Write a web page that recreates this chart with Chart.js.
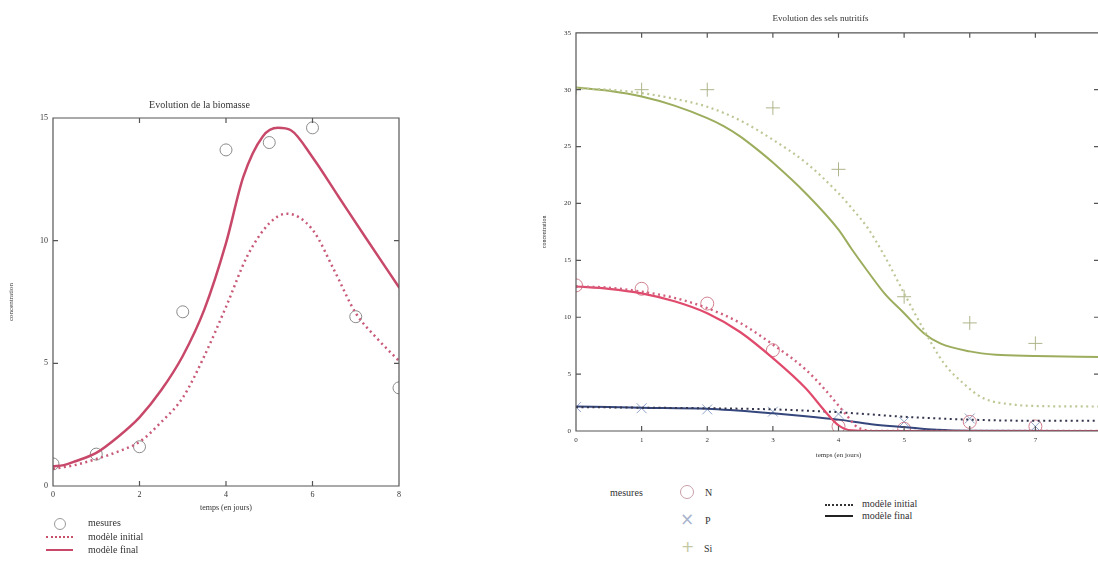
<!DOCTYPE html>
<html>
<head>
<meta charset="utf-8">
<script src="https://cdn.jsdelivr.net/npm/chart.js@4.4.1/dist/chart.umd.min.js"></script>
<style>
  html, body { margin:0; padding:0; width:1098px; height:562px; overflow:hidden; background:#fff; }
  body { position:relative; font-family:"Liberation Serif","DejaVu Serif",serif; color:#333; }
  #c1wrap { position:absolute; left:0; top:90px; width:420px; height:430px; }
  #c2wrap { position:absolute; left:540px; top:0; width:580px; height:470px; }
  .t { position:absolute; font-size:10px; line-height:12px; white-space:nowrap; color:#333; }
  .ln { position:absolute; height:0; }
</style>
</head>
<body>
<div id="c1wrap"><canvas id="c1" width="420" height="430"></canvas></div>
<div id="c2wrap"><canvas id="c2" width="580" height="470"></canvas></div>

<!-- left legend -->
<div style="position:absolute;left:54px;top:518px;width:10px;height:10px;border:1px solid #999;border-radius:50%;"></div>
<div class="t" style="left:88px;top:517px;">mesures</div>
<div class="ln" style="left:46px;top:536px;width:27px;border-top:2px dotted #c8506a;"></div>
<div class="t" style="left:88px;top:531px;">modèle initial</div>
<div class="ln" style="left:46px;top:549px;width:27px;border-top:2px solid #c8486a;"></div>
<div class="t" style="left:88px;top:544px;">modèle final</div>

<!-- right legend -->
<div class="t" style="left:610px;top:487px;">mesures</div>
<div style="position:absolute;left:680px;top:485px;width:12px;height:12px;border:1px solid #c8a0a8;border-radius:50%;"></div>
<div class="t" style="left:705px;top:487px;">N</div>
<div class="t" style="left:680px;top:510px;font-size:17px;line-height:18px;color:#a8b4cc;font-family:'DejaVu Sans',sans-serif;">×</div>
<div class="t" style="left:705px;top:515px;">P</div>
<div class="t" style="left:681px;top:538px;font-size:16px;line-height:18px;color:#c4c8a4;font-family:'DejaVu Sans',sans-serif;">+</div>
<div class="t" style="left:704px;top:543px;">Si</div>
<div class="ln" style="left:825px;top:504px;width:28px;border-top:2px dotted #333;"></div>
<div class="t" style="left:862px;top:498px;">modèle initial</div>
<div class="ln" style="left:825px;top:515px;width:28px;border-top:2px solid #222;"></div>
<div class="t" style="left:862px;top:510px;">modèle final</div>

<script>
// ---------- Data: biomasse ----------
const bioMesT   = [0, 1, 2, 3, 4, 5, 6, 7, 8];
const bioMesV   = [0.9, 1.3, 1.6, 7.1, 13.7, 14.0, 14.6, 6.9, 4.0];
const bioIniT   = [0, 0.5, 1, 1.5, 2, 2.5, 3, 3.5, 4, 4.5, 5, 5.4, 6, 6.5, 7, 7.5, 8];
const bioIniV   = [0.7, 0.85, 1.1, 1.4, 1.8, 2.6, 3.6, 5.3, 7.3, 9.4, 10.7, 11.1, 10.45, 8.8, 7.05, 6.0, 5.1];
const bioFinT   = [0, 0.25, 0.5, 1, 1.5, 2, 2.5, 3, 3.5, 4, 4.4, 4.85, 5.2, 5.5, 6, 6.6, 7.2, 8];
const bioFinV   = [0.8, 0.85, 1.0, 1.35, 2.0, 2.8, 3.9, 5.3, 7.2, 9.9, 12.6, 14.25, 14.6, 14.5, 13.4, 11.8, 10.2, 8.1];
const bioXTicks = [0, 2, 4, 6, 8];
const bioYTicks = [0, 5, 10, 15];

// ---------- Data: sels nutritifs ----------
const selMesT = [0, 1, 2, 3, 4, 5, 6, 7];
const nMesV   = [12.8, 12.5, 11.2, 7.1, 0.4, 0.2, 0.8, 0.4];
const pMesV   = [2.1, 2.0, 1.9, 1.7, 1.5, 0.8, 1.1, 0.4];
const siMesV  = [30.2, 30.0, 30.0, 28.4, 23.0, 11.8, 9.5, 7.7];

const nFinT  = [0, 0.5, 1, 1.5, 2, 2.5, 3, 3.5, 3.8, 4, 4.2, 4.5, 5, 6, 7, 8];
const nFinV  = [12.7, 12.5, 12.1, 11.4, 10.35, 8.7, 6.4, 3.75, 1.7, 0.5, 0.05, 0, 0, 0, 0, 0];
const nIniT  = [0, 0.5, 1, 1.5, 2, 2.5, 3, 3.5, 3.8, 4.1, 4.3, 4.6, 5, 8];
const nIniV  = [12.7, 12.6, 12.25, 11.7, 10.8, 9.5, 7.6, 5.4, 3.6, 1.55, 0.3, 0, 0, 0];

const siFinT = [0, 0.5, 1, 1.5, 2, 2.25, 2.5, 2.75, 3, 3.5, 4, 4.2, 4.45, 4.7, 5, 5.3, 5.55, 6, 6.4, 7, 8];
const siFinV = [30.2, 29.9, 29.4, 28.6, 27.5, 26.8, 25.9, 24.8, 23.6, 20.9, 17.7, 16.0, 14.0, 12.1, 10.35, 8.6, 7.7, 7.0, 6.7, 6.6, 6.5];
const siIniT = [0, 0.5, 1, 1.5, 2, 2.5, 3, 3.5, 4, 4.2, 4.45, 4.7, 5, 5.3, 5.6, 5.9, 6.2, 6.7, 7, 8];
const siIniV = [30.1, 30.0, 29.7, 29.2, 28.5, 27.3, 25.6, 23.6, 20.9, 19.6, 17.8, 15.4, 12.1, 8.9, 6.0, 4.2, 2.9, 2.3, 2.2, 2.15];

const pFinT  = [0, 1, 2, 3, 3.5, 4, 4.5, 5, 5.5, 6, 8];
const pFinV  = [2.15, 2.05, 1.95, 1.55, 1.3, 1.0, 0.6, 0.35, 0.1, 0.02, 0];
const pIniT  = [0, 1, 2, 3, 4, 5, 6, 7, 8];
const pIniV  = [2.1, 2.05, 2.0, 1.9, 1.65, 1.25, 1.0, 0.9, 0.9];

const selXTicks = [0, 1, 2, 3, 4, 5, 6, 7, 8];
const selYTicks = [0, 5, 10, 15, 20, 25, 30, 35];

// ---------- helpers ----------
const pts = (xs, ys) => xs.map((x, i) => ({x, y: ys[i]}));
const FONT = '"Liberation Serif","DejaVu Serif",serif';

function lineDs(label, xs, ys, color, dashed, width) {
  return {
    label, data: pts(xs, ys), showLine: true, pointRadius: 0,
    borderColor: color, borderWidth: width, borderDash: dashed ? [2, 3.5] : [],
    borderCapStyle: dashed ? 'butt' : 'round',
    cubicInterpolationMode: 'monotone', fill: false
  };
}
function markDs(label, xs, ys, style, color, r) {
  return {
    label, data: pts(xs, ys), showLine: false, pointStyle: style,
    pointRadius: r, pointBorderColor: color, pointBackgroundColor: 'rgba(0,0,0,0)',
    pointBorderWidth: 1, borderColor: color
  };
}

const framePlugin = {
  id: 'frame',
  afterDatasetsDraw(chart, args, opts) {
    const {ctx, chartArea: a, scales} = chart;
    ctx.save();
    ctx.strokeStyle = opts.color || '#555';
    ctx.lineWidth = opts.width || 1.2;
    ctx.beginPath();
    ctx.rect(a.left, a.top, a.right - a.left, a.bottom - a.top);
    const L = opts.len || 5;
    scales.x.ticks.forEach(t => {
      const px = scales.x.getPixelForValue(t.value);
      if (px <= a.left + 1 || px >= a.right - 1) return;
      ctx.moveTo(px, a.bottom); ctx.lineTo(px, a.bottom - L);
      ctx.moveTo(px, a.top); ctx.lineTo(px, a.top + L);
    });
    scales.y.ticks.forEach(t => {
      const py = scales.y.getPixelForValue(t.value);
      if (py <= a.top + 1 || py >= a.bottom - 1) return;
      ctx.moveTo(a.left, py); ctx.lineTo(a.left + L, py);
      ctx.moveTo(a.right, py); ctx.lineTo(a.right - (opts.rlen || L), py);
    });
    ctx.stroke();
    ctx.restore();
  }
};

function axes(xTicks, yTicks, o) {
  return {
    x: {
      type: 'linear', min: xTicks[0], max: xTicks[xTicks.length - 1],
      afterBuildTicks: s => { s.ticks = xTicks.map(v => ({value: v})); },
      ticks: {font: {family: FONT, size: o.tick}, color: '#333', padding: o.xpad, maxRotation: 0, autoSkip: false},
      grid: {display: false, drawTicks: false}, border: {display: false},
      title: {display: true, text: 'temps (en jours)', color: '#333', font: {family: FONT, size: o.title}, padding: {top: o.xtp, bottom: o.xtp}},
      afterFit: s => { s.height = o.xh; }
    },
    y: {
      type: 'linear', min: yTicks[0], max: yTicks[yTicks.length - 1],
      afterBuildTicks: s => { s.ticks = yTicks.map(v => ({value: v})); },
      ticks: {font: {family: FONT, size: o.tick}, color: '#333', padding: o.ypad, autoSkip: false},
      grid: {display: false, drawTicks: false}, border: {display: false},
      title: {display: true, text: 'concentration', color: '#333', font: {family: FONT, size: o.ytitle}, padding: {top: o.ytp, bottom: o.ytp}},
      afterFit: s => { s.width = o.yw; }
    }
  };
}

// ---------- chart 1 : biomasse ----------
new Chart(document.getElementById('c1'), {
  type: 'scatter',
  data: {
    datasets: [
      lineDs('modèle final', bioFinT, bioFinV, '#c8486a', false, 2.5),
      lineDs('modèle initial', bioIniT, bioIniV, '#c85a78', true, 2.5),
      markDs('mesures', bioMesT, bioMesV, 'circle', '#8a8a8a', 6)
    ]
  },
  options: {
    responsive: false, animation: false,
    layout: {padding: {top: 1, right: 21, left: 0, bottom: 0}},
    plugins: {
      legend: {display: false}, tooltip: {enabled: false},
      title: {display: true, text: 'Evolution de la biomasse', color: '#333', font: {family: FONT, size: 10, weight: 'normal'}, padding: {top: 8, bottom: 7}},
      frame: {color: '#555', width: 1.2, len: 5}
    },
    scales: axes(bioXTicks, bioYTicks, {tick: 8, title: 8, ytitle: 7, xpad: 4, xtp: 7, xh: 34, ypad: 5, ytp: 7, yw: 53})
  },
  plugins: [framePlugin]
});

// ---------- chart 2 : sels nutritifs ----------
new Chart(document.getElementById('c2'), {
  type: 'scatter',
  data: {
    datasets: [
      lineDs('Si modèle initial', siIniT, siIniV, '#bcc896', true, 2.2),
      lineDs('Si modèle final', siFinT, siFinV, '#9cad5e', false, 2),
      lineDs('N modèle initial', nIniT, nIniV, '#d0607e', true, 2.4),
      lineDs('N modèle final', nFinT, nFinV, '#e04a6c', false, 2.2),
      lineDs('P modèle initial', pIniT, pIniV, '#33364e', true, 2),
      lineDs('P modèle final', pFinT, pFinV, '#34467c', false, 2),
      markDs('Si', selMesT, siMesV, 'cross', '#b0b48a', 7),
      markDs('N', selMesT, nMesV, 'circle', '#d0808f', 6.5),
      markDs('P', selMesT, pMesV, 'crossRot', '#8fa3c8', 7)
    ]
  },
  options: {
    responsive: false, animation: false,
    layout: {padding: {top: 0, right: 19, left: 0, bottom: 0}},
    plugins: {
      legend: {display: false}, tooltip: {enabled: false},
      title: {display: true, text: 'Evolution des sels nutritifs', color: '#333', font: {family: FONT, size: 9, weight: 'normal'}, padding: {top: 13, bottom: 9}},
      frame: {color: '#555', width: 1.2, len: 5, rlen: 7}
    },
    scales: axes(selXTicks, selYTicks, {tick: 7, title: 7, ytitle: 6, xpad: 5, xtp: 11, xh: 39, ypad: 5, ytp: 0.5, yw: 36})
  },
  plugins: [framePlugin]
});
</script>
</body>
</html>
